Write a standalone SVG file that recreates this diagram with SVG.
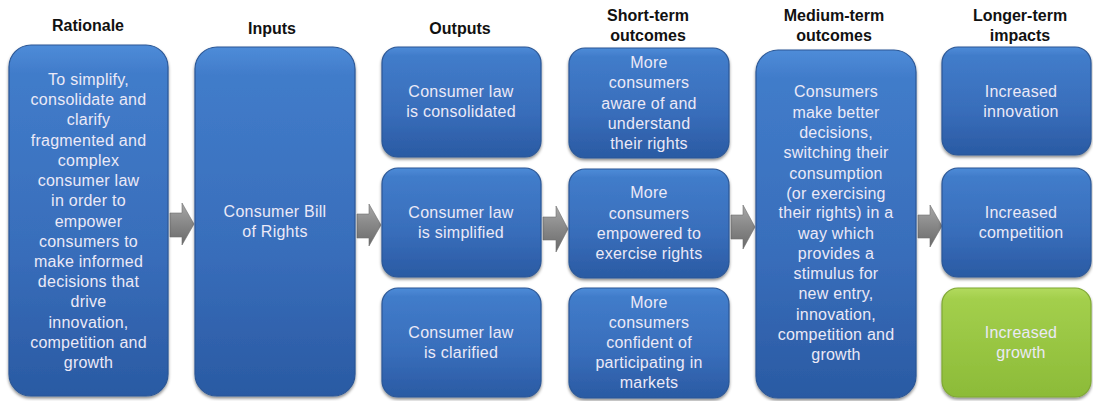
<svg xmlns="http://www.w3.org/2000/svg" width="1093" height="401" viewBox="0 0 1093 401">
<defs>
<linearGradient id="gBlue" x1="0" y1="0" x2="0" y2="1">
<stop offset="0" stop-color="#4e8cd8"/>
<stop offset="0.08" stop-color="#417cca"/>
<stop offset="0.6" stop-color="#386dba"/>
<stop offset="1" stop-color="#2a5aa3"/>
</linearGradient>
<linearGradient id="gGreen" x1="0" y1="0" x2="0" y2="1">
<stop offset="0" stop-color="#b2da5e"/>
<stop offset="0.1" stop-color="#a3cf4c"/>
<stop offset="1" stop-color="#8cbb38"/>
</linearGradient>
<linearGradient id="gArrow" x1="0" y1="0" x2="0" y2="1">
<stop offset="0" stop-color="#a8a8a8"/>
<stop offset="0.45" stop-color="#8a8a8a"/>
<stop offset="1" stop-color="#6a6a6a"/>
</linearGradient>
<filter id="sh" x="-10%" y="-10%" width="120%" height="120%">
<feDropShadow dx="0" dy="2" stdDeviation="1.5" flood-color="#000" flood-opacity="0.45"/>
</filter>
</defs>
<style>
.box{fill:url(#gBlue);stroke:#2b5796;stroke-width:1.2;filter:url(#sh)}
.green{fill:url(#gGreen);stroke:#7fa833;stroke-width:1.2;filter:url(#sh)}
.t{font-family:"Liberation Sans",Arial,sans-serif;font-size:16px;letter-spacing:0.25px;fill:#ebe9f7;text-anchor:middle}
.h{font-family:"Liberation Sans",Arial,sans-serif;font-size:16px;font-weight:bold;fill:#111;text-anchor:middle}
.arr{fill:url(#gArrow);stroke:#6e6e6e;stroke-width:0.6}
</style>
<rect width="1093" height="401" fill="#ffffff"/>
<g id="headers">
<text class="h" x="88" y="31">Rationale</text>
<text class="h" x="272" y="34">Inputs</text>
<text class="h" x="460" y="34">Outputs</text>
<text class="h" x="648" y="21">Short-term</text>
<text class="h" x="648" y="41">outcomes</text>
<text class="h" x="834" y="21">Medium-term</text>
<text class="h" x="834" y="41">outcomes</text>
<text class="h" x="1020" y="21">Longer-term</text>
<text class="h" x="1020" y="41">impacts</text>
</g>
<g id="connectors">
<polygon class="arr" points="170,213 182,213 182,203 194,224 182,245 182,237 170,237"/>
<polygon class="arr" points="357,214 369,214 369,204 381,225 369,246 369,238 357,238"/>
<polygon class="arr" points="543,217 556,217 556,206 568,229 556,252 556,240 543,240"/>
<polygon class="arr" points="731,215 743,215 743,205 755,227 743,249 743,239 731,239"/>
<polygon class="arr" points="918,215 930,215 930,205 942,226 930,247 930,238 918,238"/>
</g>
<g id="rationale">
<rect class="box" x="9" y="45" width="159" height="351" rx="22"/>
<text class="t" x="88.5" y="85">To simplify,</text>
<text class="t" x="88.5" y="105">consolidate and</text>
<text class="t" x="88.5" y="125">clarify</text>
<text class="t" x="88.5" y="146">fragmented and</text>
<text class="t" x="88.5" y="166">complex</text>
<text class="t" x="88.5" y="186">consumer law</text>
<text class="t" x="88.5" y="206">in order to</text>
<text class="t" x="88.5" y="227">empower</text>
<text class="t" x="88.5" y="247">consumers to</text>
<text class="t" x="88.5" y="267">make informed</text>
<text class="t" x="88.5" y="287">decisions that</text>
<text class="t" x="88.5" y="307">drive</text>
<text class="t" x="88.5" y="328">innovation,</text>
<text class="t" x="88.5" y="348">competition and</text>
<text class="t" x="88.5" y="368">growth</text>
</g>
<g id="inputs">
<rect class="box" x="195" y="47" width="160" height="349" rx="22"/>
<text class="t" x="275" y="217">Consumer Bill</text>
<text class="t" x="275" y="237">of Rights</text>
</g>
<g id="out1">
<rect class="box" x="382" y="47" width="159" height="110" rx="16"/>
<text class="t" x="461" y="97">Consumer law</text>
<text class="t" x="461" y="117">is consolidated</text>
</g>
<g id="out2">
<rect class="box" x="382" y="168" width="159" height="109" rx="16"/>
<text class="t" x="461" y="218">Consumer law</text>
<text class="t" x="461" y="238">is simplified</text>
</g>
<g id="out3">
<rect class="box" x="382" y="288" width="159" height="109" rx="16"/>
<text class="t" x="461" y="338">Consumer law</text>
<text class="t" x="461" y="358">is clarified</text>
</g>
<g id="short1">
<rect class="box" x="569" y="48" width="160" height="110" rx="16"/>
<text class="t" x="649" y="68">More</text>
<text class="t" x="649" y="88">consumers</text>
<text class="t" x="649" y="109">aware of and</text>
<text class="t" x="649" y="129">understand</text>
<text class="t" x="649" y="149">their rights</text>
</g>
<g id="short2">
<rect class="box" x="569" y="169" width="160" height="109" rx="16"/>
<text class="t" x="649" y="198">More</text>
<text class="t" x="649" y="219">consumers</text>
<text class="t" x="649" y="239">empowered to</text>
<text class="t" x="649" y="259">exercise rights</text>
</g>
<g id="short3">
<rect class="box" x="569" y="288" width="160" height="110" rx="16"/>
<text class="t" x="649" y="308">More</text>
<text class="t" x="649" y="328">consumers</text>
<text class="t" x="649" y="348">confident of</text>
<text class="t" x="649" y="368">participating in</text>
<text class="t" x="649" y="388">markets</text>
</g>
<g id="medium">
<rect class="box" x="756" y="50" width="160" height="348" rx="22"/>
<text class="t" x="836" y="97">Consumers</text>
<text class="t" x="836" y="118">make better</text>
<text class="t" x="836" y="138">decisions,</text>
<text class="t" x="836" y="158">switching their</text>
<text class="t" x="836" y="179">consumption</text>
<text class="t" x="836" y="199">(or exercising</text>
<text class="t" x="836" y="218">their rights) in a</text>
<text class="t" x="836" y="239">way which</text>
<text class="t" x="836" y="259">provides a</text>
<text class="t" x="836" y="279">stimulus for</text>
<text class="t" x="836" y="299">new entry,</text>
<text class="t" x="836" y="320">innovation,</text>
<text class="t" x="836" y="340">competition and</text>
<text class="t" x="836" y="360">growth</text>
</g>
<g id="long1">
<rect class="box" x="942" y="47" width="149" height="108" rx="16"/>
<text class="t" x="1021" y="97">Increased</text>
<text class="t" x="1021" y="117">innovation</text>
</g>
<g id="long2">
<rect class="box" x="942" y="168" width="149" height="109" rx="16"/>
<text class="t" x="1021" y="218">Increased</text>
<text class="t" x="1021" y="238">competition</text>
</g>
<g id="long3">
<rect class="green" x="942" y="288" width="149" height="109" rx="16"/>
<text class="t" x="1021" y="338">Increased</text>
<text class="t" x="1021" y="358">growth</text>
</g>
</svg>
